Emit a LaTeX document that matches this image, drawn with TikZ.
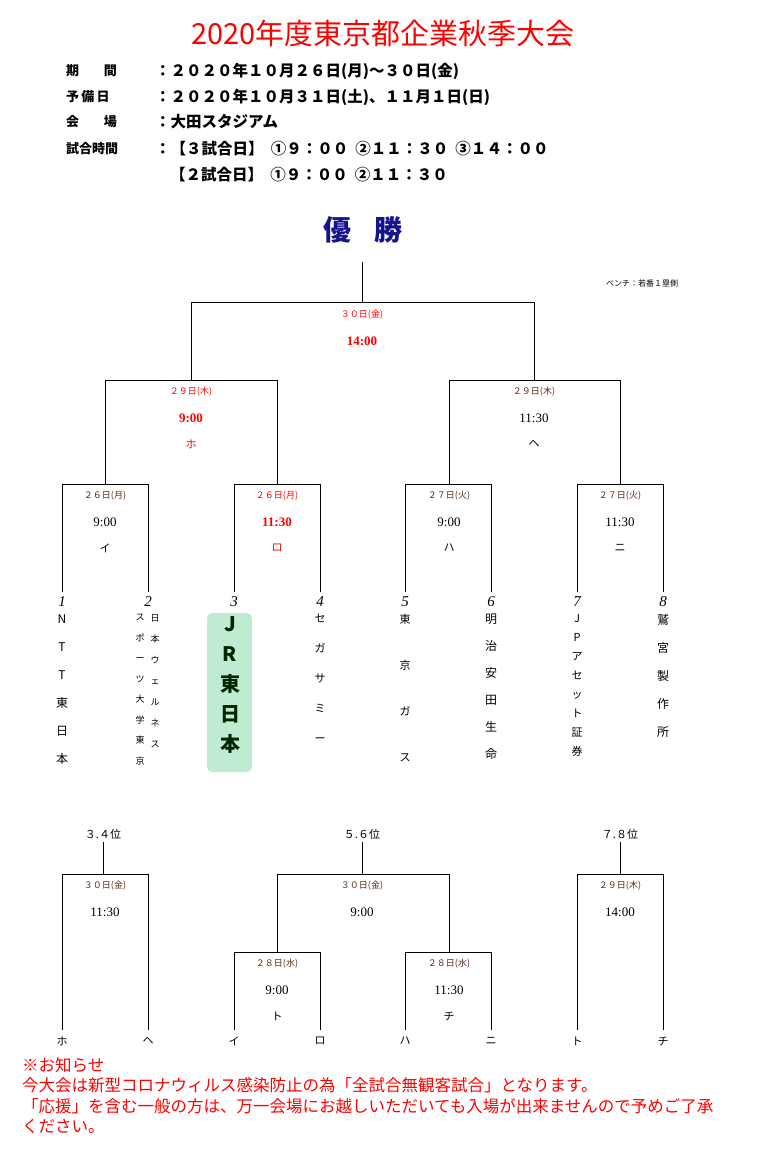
\documentclass[tikz,border=0pt]{standalone}
\usepackage{fontspec}
\setmainfont{Noto Sans CJK JP}
\newfontfamily\serif{Liberation Serif}
\definecolor{navy}{RGB}{20,20,140}
\definecolor{brn}{RGB}{90,40,20}
\definecolor{jrg}{RGB}{190,235,210}
\tikzset{
 ln/.style={draw=black,line width=0.7pt},
 dt/.style={font=\fontsize{9}{9}\selectfont,text=brn,inner sep=0},
 tm/.style={font=\serif\fontsize{13}{13}\selectfont,inner sep=0},
 lt/.style={font=\itshape\fontsize{11}{11}\selectfont,inner sep=0},
 num/.style={font=\serif\itshape\fontsize{15}{15}\selectfont,inner sep=0},
 vt/.style={align=center,inner sep=0,anchor=north},
 info/.style={font=\bfseries\fontsize{13}{13}\selectfont,anchor=west,inner sep=0},
 infob/.style={font=\bfseries\fontsize{15.5}{15.5}\selectfont,anchor=west,inner sep=0},
}
\begin{document}
\begin{tikzpicture}[x=1pt,y=-1pt]
\useasboundingbox (0,0) rectangle (770,1153);
\node[text=red,font=\fontsize{29}{29}\selectfont] (title) at (383,33) {2020年度東京都企業秋季大会};
\node[info] (i1a) at (66,71) {期\hspace{1.9em}間};
\node[infob] (i1b) at (155,71) {：２０２０年１０月２６日(月)～３０日(金)};
\node[info] (i2a) at (66,97) {予\,備\,日};
\node[infob] (i2b) at (155,97) {：２０２０年１０月３１日(土)、１１月１日(日)};
\node[info] (i3a) at (66,122) {会\hspace{1.9em}場};
\node[infob] (i3b) at (155,122) {：大田スタジアム};
\node[info] (i4a) at (66,149) {試合時間};
\node[infob] (i4b) at (155,149) {：【３試合日】\ \ ①９：００\ \ ②１１：３０\ \ ③１４：００};
\node[infob] (i5b) at (170,175) {【２試合日】\ \ ①９：００\ \ ②１１：３０};
\node[text=navy,font=\bfseries\fontsize{28}{28}\selectfont] (win) at (363,230) {優\hspace{0.8em}勝};
\node[font=\fontsize{8}{8}\selectfont] (bench) at (642,283) {ベンチ：若番１塁側};
% top bracket
\coordinate (top) at (362,262);
\coordinate (F) at (362,302);
\draw[ln] (top) -- (F);
\draw[ln] (191,380) |- (534,302) -- (534,380);
\draw[ln] (105,484) |- (277,380) -- (277,484);
\draw[ln] (449,484) |- (620,380) -- (620,484);
\foreach \a/\b in {62/148,234/320,405/491,577/663}{
 \draw[ln] (\a,592) |- (\b,484) -- (\b,592);}
% labels
\node[dt,text=red] (d0) at (362,315) {３０日(金)};
\node[tm,text=red,font=\serif\bfseries\fontsize{13}{13}\selectfont] (t0) at (362,341) {14:00};
\node[dt,text=red] (d1) at (191,392) {２９日(木)};
\node[tm,text=red,font=\serif\bfseries\fontsize{13}{13}\selectfont] (t1) at (191,418) {9:00};
\node[lt,text=red] (l1) at (191,444) {ホ};
\node[dt] (d2) at (534,392) {２９日(木)};
\node[tm] (t2) at (534,418) {11:30};
\node[lt] (l2) at (534,444) {ヘ};
\node[dt] (d3) at (105,496) {２６日(月)};
\node[tm] (t3) at (105,522) {9:00};
\node[lt] (l3) at (105,548) {イ};
\node[dt,text=red] (d4) at (277,496) {２６日(月)};
\node[tm,text=red,font=\serif\bfseries\fontsize{13}{13}\selectfont] (t4) at (277,522) {11:30};
\node[lt,text=red] (l4) at (277,548) {ロ};
\node[dt] (d5) at (449,496) {２７日(火)};
\node[tm] (t5) at (449,522) {9:00};
\node[lt] (l5) at (449,548) {ハ};
\node[dt] (d6) at (620,496) {２７日(火)};
\node[tm] (t6) at (620,522) {11:30};
\node[lt] (l6) at (620,548) {ニ};
% numbers
\foreach \x/\n in {62/1,148/2,234/3,320/4,405/5,491/6,577/7,663/8}{
 \node[num] (n\n) at (\x,602) {\n};}
% teams
\node[vt,font=\fontsize{12}{28}\selectfont] (tA) at (62,614) {N\\T\\T\\東\\日\\本};
\node[vt,font=\fontsize{9}{20.5}\selectfont] (tB1) at (140,614) {ス\\ポ\\ー\\ツ\\大\\学\\東\\京};
\node[vt,font=\fontsize{9}{21}\selectfont] (tB2) at (155,614) {日\\本\\ウ\\ェ\\ル\\ネ\\ス};
\node[fill=jrg,rounded corners=5pt,minimum width=45pt,minimum height=159pt,inner sep=0] (boxC) at (229.5,692.5) {};
\node[vt,font=\bfseries\fontsize{20}{30}\selectfont,text=black!85!green] (tC) at (230,616) {J\\R\\東\\日\\本};
\node[vt,font=\fontsize{11}{30}\selectfont] (tD) at (320,614) {セ\\ガ\\サ\\ミ\\ー};
\node[vt,font=\fontsize{11}{46}\selectfont] (tE) at (405,614) {東\\京\\ガ\\ス};
\node[vt,font=\fontsize{12}{27}\selectfont] (tF) at (491,614) {明\\治\\安\\田\\生\\命};
\node[vt,font=\fontsize{11}{19}\selectfont] (tG) at (577,614) {J\\P\\ア\\セ\\ッ\\ト\\証\\券};
\node[vt,font=\fontsize{12}{28}\selectfont] (tH) at (663,614) {鷲\\宮\\製\\作\\所};
% placement brackets
\node[font=\fontsize{11}{11}\selectfont,inner sep=0] (p34) at (103,834) {３.４位};
\node[font=\fontsize{11}{11}\selectfont,inner sep=0] (p56) at (362,834) {５.６位};
\node[font=\fontsize{11}{11}\selectfont,inner sep=0] (p78) at (620,834) {７.８位};
\draw[ln] (p34.south) ++(0,3) -- (103,874);
\draw[ln] (p56.south) ++(0,3) -- (362,874);
\draw[ln] (p78.south) ++(0,3) -- (620,874);
\draw[ln] (62,1030) |- (148,874) -- (148,1030);
\draw[ln] (577,1030) |- (663,874) -- (663,1030);
\draw[ln] (277,952) |- (449,874) -- (449,952);
\draw[ln] (234,1030) |- (320,952) -- (320,1030);
\draw[ln] (405,1030) |- (491,952) -- (491,1030);
\node[dt] (b1) at (105,886) {３０日(金)};
\node[tm] (b1t) at (105,912) {11:30};
\node[dt] (b2) at (362,886) {３０日(金)};
\node[tm] (b2t) at (362,912) {9:00};
\node[dt] (b3) at (620,886) {２９日(木)};
\node[tm] (b3t) at (620,912) {14:00};
\node[dt] (b4) at (277,964) {２８日(水)};
\node[tm] (b4t) at (277,990) {9:00};
\node[lt] (b4l) at (277,1016) {ト};
\node[dt] (b5) at (449,964) {２８日(水)};
\node[tm] (b5t) at (449,990) {11:30};
\node[lt] (b5l) at (449,1016) {チ};
\foreach \x/\s/\i in {62/ホ/1,148/ヘ/2,234/イ/3,320/ロ/4,405/ハ/5,491/ニ/6,577/ト/7,663/チ/8}{
 \node[lt] (e\i) at (\x,1041) {\s};}
% notice
\node[text=red,font=\fontsize{16.5}{20.5}\selectfont,align=left,anchor=north west,inner sep=0] (note) at (22,1057) {※お知らせ\\今大会は新型コロナウィルス感染防止の為「全試合無観客試合」となります。\\「応援」を含む一般の方は、万一会場にお越しいただいても入場が出来ませんので予めご了承\\ください。};
\end{tikzpicture}
\end{document}
